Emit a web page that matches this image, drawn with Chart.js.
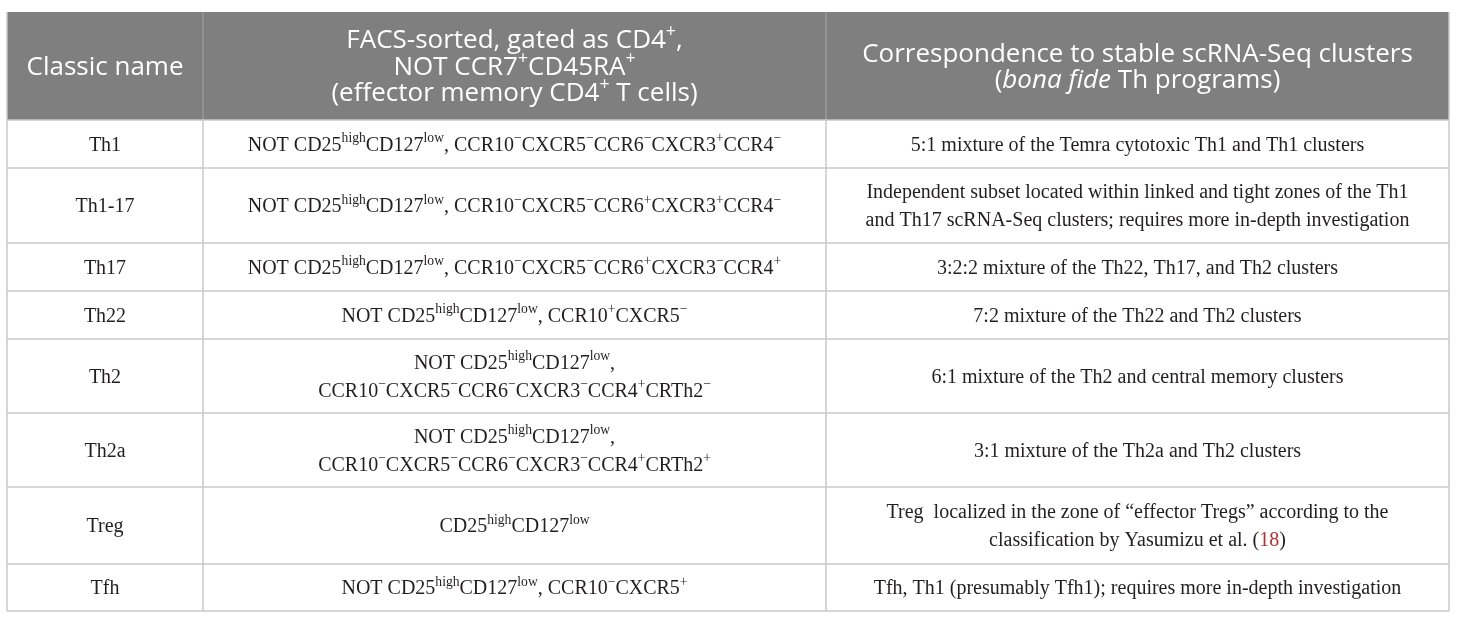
<!DOCTYPE html>
<html>
<head>
<meta charset="utf-8">
<script src="https://cdn.jsdelivr.net/npm/chart.js@4.4.1/dist/chart.umd.min.js"></script>
<style>
  html, body { margin: 0; background: #fff; }
</style>
</head>
<body>
<canvas id="myChart" width="1460" height="623"></canvas>
<script>
// table content.  markup: ^{..} superscript, /{..} italic, #{..} red reference
var headers = [
  'Classic name',
  'FACS-sorted, gated as CD4^{+},\nNOT CCR7^{+}CD45RA^{+}\n(effector memory CD4^{+} T cells)',
  'Correspondence to stable scRNA-Seq clusters\n(/{bona fide} Th programs)'
];

var classicNames = ['Th1', 'Th1-17', 'Th17', 'Th22', 'Th2', 'Th2a', 'Treg', 'Tfh'];

var gating = [
  'NOT CD25^{high}CD127^{low}, CCR10^{−}CXCR5^{−}CCR6^{−}CXCR3^{+}CCR4^{−}',
  'NOT CD25^{high}CD127^{low}, CCR10^{−}CXCR5^{−}CCR6^{+}CXCR3^{+}CCR4^{−}',
  'NOT CD25^{high}CD127^{low}, CCR10^{−}CXCR5^{−}CCR6^{+}CXCR3^{−}CCR4^{+}',
  'NOT CD25^{high}CD127^{low}, CCR10^{+}CXCR5^{−}',
  'NOT CD25^{high}CD127^{low},\nCCR10^{−}CXCR5^{−}CCR6^{−}CXCR3^{−}CCR4^{+}CRTh2^{−}',
  'NOT CD25^{high}CD127^{low},\nCCR10^{−}CXCR5^{−}CCR6^{−}CXCR3^{−}CCR4^{+}CRTh2^{+}',
  'CD25^{high}CD127^{low}',
  'NOT CD25^{high}CD127^{low}, CCR10^{−}CXCR5^{+}'
];

var correspondence = [
  '5:1 mixture of the Temra cytotoxic Th1 and Th1 clusters',
  'Independent subset located within linked and tight zones of the Th1\nand Th17 scRNA-Seq clusters; requires more in-depth investigation',
  '3:2:2 mixture of the Th22, Th17, and Th2 clusters',
  '7:2 mixture of the Th22 and Th2 clusters',
  '6:1 mixture of the Th2 and central memory clusters',
  '3:1 mixture of the Th2a and Th2 clusters',
  'Treg  localized in the zone of \u201ceffector Tregs\u201d according to the\nclassification by Yasumizu et al. (#{18})',
  'Tfh, Th1 (presumably Tfh1); requires more in-depth investigation'
];

// layout
var colEdges = [7, 203, 826, 1449];
var rowEdges = [12, 120, 168, 243, 291, 339, 413, 487, 564, 611];

function parse(str) {
  var segs = [], re = /([\^\/#])\{([^}]*)\}|([^\^\/#]+)/g, m;
  while ((m = re.exec(str))) {
    if (m[3]) segs.push({ t: m[3] });
    else segs.push({ t: m[2], sup: m[1] == '^', it: m[1] == '/', red: m[1] == '#' });
  }
  return segs;
}

function segFont(s, st) {
  var size = s.sup ? st.size * 0.68 : st.size;
  return (s.it ? 'italic ' : '') + size + 'px ' + st.family;
}

function drawRich(ctx, text, cx, cy, st) {
  var lines = text.split('\n');
  var n = lines.length;
  lines.forEach(function (line, i) {
    var segs = parse(line);
    var w = 0;
    segs.forEach(function (s) { ctx.font = segFont(s, st); s.w = ctx.measureText(s.t).width; w += s.w; });
    var x = cx - w / 2;
    var base = cy + (i - (n - 1) / 2) * st.lh + st.size * 0.34;
    segs.forEach(function (s) {
      ctx.font = segFont(s, st);
      ctx.fillStyle = s.red ? '#c0282d' : st.color;
      ctx.fillText(s.t, x, s.sup ? base - st.size * 0.42 : base);
      x += s.w;
    });
  });
}

var tablePlugin = {
  id: 'tableDraw',
  afterDraw: function (chart) {
    var ctx = chart.ctx;
    ctx.save();
    ctx.textBaseline = 'alphabetic';
    ctx.textAlign = 'left';
    var L = colEdges[0], R = colEdges[3];
    // header band
    ctx.fillStyle = '#7f7f7f';
    ctx.fillRect(L, rowEdges[0], R - L, rowEdges[1] - rowEdges[0]);
    var headSt = { size: 26, lh: 26.5, family: '"Open Sans", "Noto Sans", sans-serif', color: '#ffffff' };
    var bodySt = { size: 20, lh: 28, family: '"Liberation Serif", "DejaVu Serif", serif', color: '#231f20' };
    headers.forEach(function (h, c) {
      drawRich(ctx, h, (colEdges[c] + colEdges[c + 1]) / 2, (rowEdges[0] + rowEdges[1]) / 2, headSt);
    });
    var cols = [classicNames, gating, correspondence];
    classicNames.forEach(function (name, r) {
      var cy = (rowEdges[r + 1] + rowEdges[r + 2]) / 2;
      cols.forEach(function (col, c) {
        drawRich(ctx, col[r], (colEdges[c] + colEdges[c + 1]) / 2, cy, bodySt);
      });
    });
    // grid
    ctx.lineWidth = 1.5;
    ctx.strokeStyle = '#9a9a9a';
    [1, 2].forEach(function (c) {
      ctx.beginPath(); ctx.moveTo(colEdges[c], rowEdges[0]); ctx.lineTo(colEdges[c], rowEdges[1]); ctx.stroke();
    });
    ctx.strokeStyle = '#c9c9c9';
    for (var r = 1; r < rowEdges.length; r++) {
      ctx.beginPath(); ctx.moveTo(L, rowEdges[r]); ctx.lineTo(R, rowEdges[r]); ctx.stroke();
    }
    colEdges.forEach(function (x) {
      ctx.beginPath(); ctx.moveTo(x, rowEdges[1]); ctx.lineTo(x, rowEdges[rowEdges.length - 1]); ctx.stroke();
    });
    ctx.beginPath(); ctx.moveTo(L, rowEdges[0]); ctx.lineTo(L, rowEdges[1]); ctx.stroke();
    ctx.beginPath(); ctx.moveTo(R, rowEdges[0]); ctx.lineTo(R, rowEdges[1]); ctx.stroke();
    ctx.restore();
  }
};

const myChart = new Chart(document.getElementById('myChart'), {
  type: 'bar',
  data: { labels: classicNames, datasets: [] },
  options: {
    responsive: false,
    animation: false,
    layout: { padding: 0 },
    plugins: { legend: { display: false }, tooltip: { enabled: false } },
    scales: { x: { display: false }, y: { display: false } }
  },
  plugins: [tablePlugin]
});
</script>
</body>
</html>
